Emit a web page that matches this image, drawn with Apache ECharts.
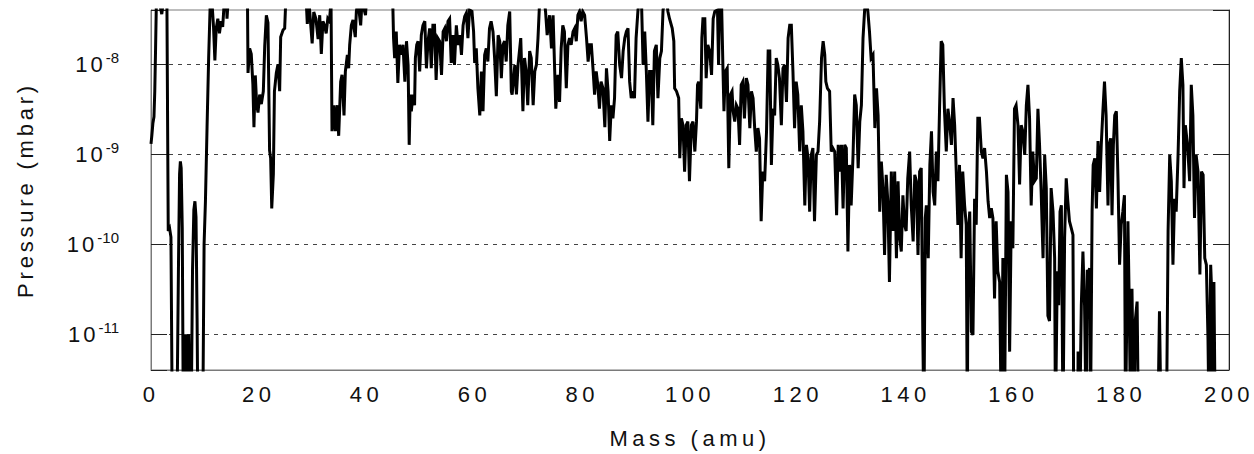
<!DOCTYPE html>
<html>
<head>
<meta charset="utf-8">
<script src="https://cdn.jsdelivr.net/npm/echarts@6/dist/echarts.min.js"></script>
<style>
html, body { margin: 0; padding: 0; background: #ffffff; }
#chart { width: 1254px; height: 454px; }
#chart text[style*="lsxa"], #chart text[font-family*="lsxa"] { letter-spacing: 4.5px; }
#chart text[style*="lsyn"], #chart text[font-family*="lsyn"] { letter-spacing: 3.8px; }
#chart text[style*="lsyb"], #chart text[font-family*="lsyb"] { letter-spacing: 3px; }
</style>
</head>
<body>
<div id="chart"></div>
<script>
// Mass spectrum: [mass (amu), pressure (mbar)]; values beyond the axis range are clipped.
const seg0to33 = [
  [0.0, 1.3e-9], [0.15, 1.6e-9], [0.35, 2.2e-9], [0.55, 2.6e-9], [0.7, 5e-9], [0.85, 1.5e-8], [1.0, 5e-8],
  [1.5, 5e-8], [2.0, 3.6e-8], [2.3, 5e-8], [2.95, 5e-8], [3.2, 1.4e-10], [3.45, 1.5e-10], [3.7, 1.2e-10],
  [3.95, 1e-12], [4.8, 1e-12], [5.1, 6e-11], [5.3, 6e-10], [5.45, 8.3e-10], [5.6, 7e-10], [5.8, 1.5e-10],
  [6.0, 1e-12], [6.2, 1e-11], [6.4, 2e-12], [6.6, 1e-11], [6.8, 2e-12], [7.0, 1e-11], [7.2, 1e-12],
  [7.45, 1e-12], [7.7, 5e-11], [7.95, 2.4e-10], [8.15, 3e-10], [8.35, 2e-10], [8.55, 1.5e-11], [8.7, 1e-12],
  [9.6, 1e-12], [9.85, 1e-10], [10.1, 3e-10], [10.4, 2e-9], [10.7, 1.2e-8], [11.0, 5e-8], [11.3, 5e-8],
  [11.6, 2.6e-8], [11.85, 1.1e-8], [12.1, 2.5e-8], [12.4, 3.2e-8], [12.7, 2.2e-8], [13.0, 3e-8], [13.3, 2.6e-8],
  [13.6, 5e-8], [14.0, 5e-8], [14.1, 3.2e-8], [14.3, 5e-8], [17.9, 5e-8], [18.0, 8e-9], [18.3, 1.5e-8],
  [18.6, 1.3e-8], [18.9, 6e-9], [19.1, 2.0e-9], [19.35, 7.5e-9], [19.6, 3.6e-9], [19.85, 2.9e-9], [20.16, 4.6e-9],
  [20.47, 3.6e-9], [20.84, 5e-9], [21.1, 1.6e-8], [21.4, 3.5e-8], [21.7, 2.9e-8], [22.0, 1.1e-9], [22.2, 9e-10],
  [22.4, 2.5e-10], [22.7, 6e-10], [22.9, 5e-9], [23.25, 8e-9], [23.56, 1.0e-8], [23.87, 5e-9], [24.06, 2e-8],
  [24.5, 2.4e-8], [24.8, 2.5e-8], [25.0, 5e-8], [28.8, 5e-8], [29.0, 2.8e-8], [29.3, 5e-8], [29.9, 1.7e-8],
  [30.2, 3.8e-8], [30.6, 3.2e-8], [31.0, 1.9e-8], [31.3, 3.5e-8], [31.6, 1.3e-8], [31.9, 3e-8], [32.2, 2.7e-8],
  [32.5, 2.2e-8], [32.8, 3.2e-8], [33.1, 3e-8], [33.4, 5e-8]
];
const seg33to67 = [
  [33.58, 1.8e-9], [33.95, 3.5e-9], [34.2, 1.8e-9], [34.57, 3.5e-9], [34.82, 1.6e-9], [35.19, 6.4e-9],
  [35.44, 7.6e-9], [35.81, 2.7e-9], [36.06, 8.3e-9], [36.43, 1.27e-8], [36.67, 9e-9], [36.86, 1.64e-8],
  [37.17, 2.7e-8], [37.48, 3.1e-8], [37.9, 2.0e-8], [38.1, 3.85e-8], [38.4, 5e-8], [38.9, 2.7e-8], [39.15, 5e-8],
  [39.8, 3.5e-8], [39.95, 5e-8], [44.85, 5e-8], [45.0, 1.95e-8], [45.2, 1.17e-8], [45.5, 2.3e-8], [45.8, 6.2e-9],
  [46.1, 1.64e-8], [46.45, 1.27e-8], [46.75, 1.64e-8], [47.1, 6.4e-9], [47.4, 1.8e-8], [47.7, 9.8e-9],
  [47.9, 1.27e-9], [48.1, 4.6e-9], [48.3, 3.0e-9], [48.6, 4.6e-9], [48.9, 3.5e-9], [49.05, 1.17e-8],
  [49.3, 1.64e-8], [49.55, 1.8e-8], [49.85, 8.3e-9], [50.15, 2.1e-8], [50.45, 2.7e-8], [50.8, 3.0e-8],
  [51.1, 9e-9], [51.4, 1.8e-8], [51.7, 2.5e-8], [52.0, 9e-9], [52.3, 2.7e-8], [52.6, 2.7e-8], [52.9, 6.7e-9],
  [53.2, 1.95e-8], [53.55, 1.8e-8], [53.9, 7.6e-9], [54.2, 2.3e-8], [54.5, 2.5e-8], [54.8, 1.8e-8],
  [55.1, 3.0e-8], [55.4, 3.2e-8], [55.7, 1.03e-8], [56.0, 2.1e-8], [56.3, 9.8e-9], [56.65, 2.7e-8],
  [56.95, 1.64e-8], [57.3, 2.1e-8], [57.6, 1.27e-8], [57.9, 2.7e-8], [58.2, 3.4e-8], [58.5, 3.7e-8],
  [58.8, 1.95e-8], [59.1, 4.0e-8], [59.55, 3.85e-8], [59.85, 2.3e-8], [60.05, 1.03e-8], [60.35, 1.5e-8],
  [60.65, 5.4e-9], [61.0, 2.7e-9], [61.3, 8.3e-9], [61.6, 3.0e-9], [61.9, 1.27e-8], [62.2, 1.5e-8],
  [62.5, 1.07e-8], [62.8, 2.5e-8], [63.1, 3.0e-8], [63.45, 2.3e-8], [63.75, 1.17e-8], [64.07, 4.4e-9],
  [64.4, 2.1e-8], [64.7, 1.8e-8], [65.0, 7.0e-9], [65.3, 1.64e-8], [65.6, 1.8e-8], [65.9, 1.07e-8],
  [66.2, 2.7e-8], [66.55, 3.85e-8], [66.85, 5.0e-9]
];
const seg67to100 = [
  [67.0, 4.6e-9], [67.5, 9.8e-9], [67.8, 4.6e-9], [68.1, 9.8e-9], [68.6, 1.95e-8], [69.0, 3.0e-9],
  [69.3, 1.17e-8], [69.6, 8.3e-9], [69.9, 3.5e-9], [70.25, 1.4e-8], [70.55, 1.17e-8], [70.9, 3.5e-9],
  [71.2, 8.3e-9], [71.5, 9.8e-9], [71.8, 1.95e-8], [72.1, 5e-8], [73.0, 5e-8], [73.2, 3.85e-8], [73.5, 2.1e-8],
  [73.95, 3.5e-8], [74.3, 1.5e-8], [74.6, 3.5e-8], [74.9, 8.3e-9], [75.1, 3.2e-9], [75.5, 7.6e-9],
  [75.8, 3.8e-9], [76.1, 1.5e-8], [76.4, 2.7e-8], [76.7, 2.3e-8], [77.05, 5.4e-9], [77.35, 1.64e-8],
  [77.65, 1.95e-8], [77.95, 1.64e-8], [78.3, 2.3e-8], [78.6, 2.5e-8], [78.9, 1.8e-8], [79.2, 3.5e-8],
  [79.5, 3.85e-8], [79.8, 3.0e-8], [80.1, 3.85e-8], [80.45, 3.5e-8], [80.8, 1.95e-8], [81.1, 1.07e-8],
  [81.4, 1.64e-8], [81.7, 1.64e-8], [82.0, 9e-9], [82.3, 4.6e-9], [82.6, 8.3e-9], [82.9, 5.9e-9],
  [83.2, 3.2e-9], [83.5, 6.4e-9], [83.85, 5.4e-9], [84.2, 2.0e-9], [84.5, 9e-9], [84.8, 5.0e-9],
  [85.1, 1.4e-9], [85.4, 3.5e-9], [85.7, 2.5e-9], [86.0, 4.2e-9], [86.3, 2.1e-8], [86.6, 2.3e-8],
  [86.95, 9.8e-9], [87.3, 7.0e-9], [87.6, 1.4e-8], [87.9, 1.95e-8], [88.2, 2.3e-8], [88.5, 2.5e-8],
  [88.8, 6.4e-9], [89.1, 4.2e-9], [89.4, 5.0e-9], [89.7, 4.2e-9], [90.0, 1.95e-8], [90.35, 4.0e-8],
  [90.6, 5e-8], [91.0, 5e-8], [91.3, 9.8e-9], [91.6, 2.3e-8], [91.9, 8.3e-9], [92.2, 2.3e-9], [92.5, 8.3e-9],
  [92.8, 8.3e-9], [93.1, 2.1e-9], [93.4, 1.4e-8], [93.75, 1.64e-8], [94.05, 4.2e-9], [94.4, 1.17e-8],
  [94.7, 1.4e-8], [95.0, 4.0e-8], [95.3, 5e-8], [95.7, 5e-8], [95.9, 3.85e-8], [96.2, 3.2e-8], [96.7, 2.5e-8],
  [97.0, 1.8e-8], [97.15, 5.4e-9], [97.5, 5.0e-9], [97.9, 4.2e-9], [98.1, 9e-10], [98.4, 2.5e-9],
  [98.7, 2.1e-9], [99.0, 6.4e-10], [99.3, 2.1e-9], [99.6, 2.3e-9], [99.9, 5.0e-10]
];
const seg100to132 = [
  [100.25, 2.1e-9], [100.55, 2.3e-9], [100.9, 1.07e-9], [101.2, 2.3e-9], [101.4, 5.9e-9], [101.6, 6.4e-9],
  [102.0, 3.2e-9], [102.2, 1.95e-8], [102.4, 3.2e-8], [102.75, 3.2e-8], [103.0, 7.0e-9], [103.3, 1.64e-8],
  [103.65, 1.4e-8], [104.0, 7.6e-9], [104.3, 3.2e-8], [104.6, 3.85e-8], [105.1, 4.0e-8], [105.3, 9.8e-9],
  [105.5, 5e-8], [105.85, 5e-8], [106.1, 9.8e-9], [106.3, 3.0e-9], [106.55, 8.3e-9], [106.9, 9e-9],
  [107.2, 7.0e-10], [107.5, 4.6e-9], [107.8, 5.0e-9], [108.0, 3.0e-9], [108.3, 2.3e-9], [108.6, 3.5e-9],
  [108.9, 3.2e-9], [109.2, 1.27e-9], [109.5, 5.9e-9], [109.8, 6.4e-9], [110.1, 2.5e-9], [110.45, 7.0e-9],
  [110.75, 5.9e-9], [111.1, 1.95e-9], [111.4, 5.0e-9], [111.7, 4.2e-9], [112.0, 1.95e-9], [112.3, 1.07e-9],
  [112.6, 1.95e-9], [112.9, 1.5e-9], [113.2, 1.8e-10], [113.5, 6.4e-10], [113.85, 5.0e-10], [114.2, 1.8e-9],
  [114.5, 1.4e-8], [114.8, 1.4e-8], [115.1, 7.6e-10], [115.4, 3.2e-9], [115.7, 2.7e-9], [116.0, 1.17e-8],
  [116.3, 9.8e-9], [116.6, 7.0e-9], [116.95, 2.1e-9], [117.25, 9e-9], [117.55, 9.8e-9], [117.9, 3.8e-9],
  [118.2, 1.95e-8], [118.5, 2.7e-8], [118.8, 2.7e-8], [119.1, 8.3e-9], [119.4, 1.95e-9], [119.7, 6.4e-9],
  [120.0, 4.6e-9], [120.35, 1.07e-9], [120.65, 3.5e-9], [120.95, 1.8e-9], [121.3, 2.7e-10], [121.6, 1.27e-9],
  [121.9, 9e-10], [122.2, 2.3e-10], [122.5, 9.8e-10], [122.8, 1.17e-9], [123.1, 1.8e-10], [123.45, 9.8e-10],
  [123.75, 1.07e-9], [124.05, 2.3e-9], [124.4, 1.17e-8], [124.7, 1.8e-8], [125.0, 1.27e-8], [125.2, 6.4e-9],
  [125.5, 5.4e-9], [125.9, 5.0e-9], [126.2, 1.07e-9], [126.5, 1.17e-9], [126.85, 1.07e-9], [127.2, 2.1e-10],
  [127.5, 1.27e-9], [127.8, 6.4e-10], [128.1, 1.27e-9], [128.4, 2.5e-10], [128.7, 1.27e-9], [129.0, 1.17e-9],
  [129.3, 8.3e-11], [129.6, 7.6e-10], [129.9, 2.7e-10], [130.25, 9.8e-10], [130.55, 4.6e-9], [130.85, 3.5e-9],
  [131.2, 7.0e-10], [131.5, 2.3e-9], [131.8, 3.5e-9], [132.1, 1.95e-8]
];
const seg132to166 = [
  [132.4, 4.0e-8], [132.7, 5e-8], [133.0, 3.85e-8], [133.3, 2.3e-8], [133.6, 1.17e-8], [133.95, 1.27e-8],
  [134.3, 1.95e-9], [134.6, 5.4e-9], [134.9, 2.7e-9], [135.2, 2.3e-10], [135.5, 8.3e-10], [135.8, 4.2e-10],
  [136.1, 7.6e-11], [136.4, 5.9e-10], [136.7, 3.0e-10], [137.0, 3.8e-11], [137.35, 6.4e-10], [137.65, 1.4e-10],
  [137.97, 6.4e-10], [138.3, 7.0e-11], [138.6, 5.0e-10], [138.9, 1.17e-10], [139.2, 8.3e-11], [139.5, 3.5e-10],
  [139.8, 1.64e-10], [140.1, 1.4e-10], [140.4, 5.4e-10], [140.75, 1.07e-9], [141.05, 2.7e-10], [141.4, 1.07e-10],
  [141.7, 5.9e-10], [142.0, 5.0e-10], [142.3, 7.6e-11], [142.6, 6.4e-10], [142.9, 7.0e-10], [143.2, 9e-12],
  [143.4, 1e-12], [143.65, 1.95e-10], [143.85, 2.7e-10], [144.2, 7.0e-11], [144.5, 7.6e-10], [144.8, 1.8e-9],
  [145.1, 3.8e-10], [145.4, 2.7e-10], [145.7, 1.07e-9], [146.0, 5.0e-10], [146.3, 3.2e-9], [146.6, 1.8e-8],
  [146.9, 1.64e-8], [147.2, 3.2e-9], [147.55, 1.07e-9], [147.85, 3.2e-9], [148.15, 2.3e-9], [148.5, 1.27e-9],
  [148.8, 4.2e-9], [149.1, 2.1e-9], [149.4, 6.4e-10], [149.7, 1.64e-10], [150.0, 7.6e-10], [150.3, 7.0e-11],
  [150.6, 6.4e-10], [150.95, 2.7e-10], [151.25, 1.64e-10], [151.45, 1e-12], [151.6, 1.17e-10], [151.9, 2.3e-10],
  [152.2, 1.07e-11], [152.5, 9.8e-12], [152.8, 3.2e-10], [153.1, 1.64e-10], [153.4, 2.5e-9], [153.7, 2.5e-9],
  [154.05, 1.07e-9], [154.35, 9e-10], [154.65, 1.17e-9], [155.0, 6.4e-10], [155.3, 3.0e-10], [155.6, 1.95e-10],
  [155.9, 2.5e-10], [156.2, 1.95e-10], [156.5, 2.5e-11], [156.8, 1.8e-10], [157.1, 5.0e-11], [157.45, 3.8e-11],
  [157.75, 1e-12], [158.05, 7.0e-11], [158.35, 1e-12], [158.7, 5.9e-10], [159.0, 3.8e-10], [159.3, 6.4e-12],
  [159.6, 1.8e-10], [159.9, 9e-11], [160.2, 3.2e-9], [160.5, 3.5e-9], [160.85, 2.1e-9], [161.15, 4.6e-10],
  [161.45, 2.1e-9], [161.75, 1.8e-9], [162.1, 9.8e-10], [162.4, 3.5e-9], [162.7, 5.9e-9], [163.0, 2.5e-9],
  [163.3, 2.7e-10], [163.6, 1.07e-9], [163.9, 5.0e-10], [164.25, 5.4e-10], [164.55, 3.2e-9], [164.85, 1.27e-9],
  [165.15, 3.8e-10], [165.5, 7.0e-11], [165.8, 9.8e-10], [166.1, 4.2e-10], [166.4, 1.6e-11]
];
const seg166to200 = [
  [166.7, 1.4e-11], [167.0, 4.2e-10], [167.35, 2.3e-10], [167.65, 7.0e-11], [167.8, 1e-12], [168.15, 5.0e-11],
  [168.4, 2.1e-11], [168.65, 2.3e-10], [168.9, 2.7e-10], [169.2, 1e-12], [169.5, 1.17e-10], [169.8, 5.4e-10],
  [170.1, 3.0e-10], [170.4, 1.8e-10], [170.75, 1.5e-10], [171.05, 1.27e-10], [171.2, 1e-12], [171.95, 1e-12],
  [172.0, 6.4e-12], [172.3, 1e-12], [172.6, 2.1e-11], [172.9, 8.3e-11], [173.2, 2.1e-11], [173.5, 1e-12],
  [173.7, 5.0e-11], [173.95, 5.0e-11], [174.15, 5.4e-11], [174.3, 1e-12], [174.6, 2.3e-10], [174.8, 7.6e-10],
  [175.1, 9e-10], [175.4, 2.5e-10], [175.7, 1.4e-9], [176.0, 3.8e-10], [176.3, 1.27e-9], [176.6, 3.0e-9],
  [176.9, 6.4e-9], [177.2, 2.7e-9], [177.55, 2.7e-10], [177.75, 1.27e-9], [178.05, 1.5e-9], [178.3, 2.1e-10],
  [178.55, 1.27e-9], [178.8, 2.7e-9], [179.1, 3.0e-9], [179.4, 5.4e-10], [179.7, 5.9e-11], [180.0, 1.64e-10],
  [180.3, 2.3e-10], [180.6, 3.5e-10], [180.8, 1e-12], [181.25, 1.8e-10], [181.45, 3.2e-11], [181.75, 1e-12],
  [182.0, 3.2e-11], [182.35, 1e-12], [182.6, 1.4e-11], [182.95, 2.3e-11], [183.2, 1e-12], [186.8, 1e-12],
  [187.1, 1.8e-11], [187.4, 1e-12], [188.4, 1e-12], [188.7, 1.4e-10], [189.0, 9.8e-10], [189.3, 5.0e-10],
  [189.6, 5.9e-11], [189.9, 3.2e-10], [190.2, 2.3e-10], [190.55, 9.8e-10], [190.85, 5.0e-9], [191.15, 1.17e-8],
  [191.45, 5.9e-9], [191.65, 4.2e-10], [191.9, 2.1e-9], [192.3, 1.27e-9], [192.7, 5.0e-10], [193.0, 5.9e-9],
  [193.3, 2.7e-9], [193.6, 1.95e-10], [193.9, 9.8e-10], [194.25, 6.4e-10], [194.6, 4.6e-11], [194.9, 6.4e-10],
  [195.2, 5.9e-10], [195.5, 7.0e-11], [195.8, 5.9e-11], [196.1, 9e-12], [196.3, 1e-12], [196.6, 5.9e-11],
  [196.85, 2.3e-11], [197.0, 1e-12], [197.2, 3.8e-11], [197.45, 1e-12]
];

const xRange = [0, 200];
const xTickStep = 20;
const yRange = [4e-12, 4e-8];
const xName = 'Mass (amu)';
const yName = 'Pressure (mbar)';

const spectrum = [].concat(seg0to33, seg33to67, seg67to100, seg100to132, seg132to166, seg166to200);

const BASE = "'Liberation Sans', Arial, Helvetica, sans-serif";
const FONT_X = BASE + ", lsxa";
const FONT_YN = BASE + ", lsyn";
const FONT_YB = BASE + ", lsyb";
const TXT = '#111111';

const chart = echarts.init(document.getElementById('chart'), null, { renderer: 'svg' });

function decadeLabel(v) {
  const e = Math.log10(v);
  const r = Math.round(e);
  if (Math.abs(e - r) > 0.02) return '';
  return '{b|10}{s|' + r + '}';
}

chart.setOption({
  animation: false,
  backgroundColor: '#ffffff',
  grid: {
    left: 151, top: 10, width: 1078, height: 361,
    show: true, borderColor: '#7a7a7a', borderWidth: 1, backgroundColor: 'transparent'
  },
  xAxis: {
    type: 'value', min: xRange[0], max: xRange[1], interval: xTickStep,
    name: xName, nameLocation: 'middle', nameGap: 57,
    nameTextStyle: { fontFamily: FONT_X, fontSize: 22, color: TXT },
    axisLine: { show: true, lineStyle: { color: '#7a7a7a', width: 1 } },
    axisTick: { show: false },
    splitLine: { show: false },
    axisLabel: { fontFamily: FONT_X, fontSize: 22, color: TXT, margin: 13 }
  },
  yAxis: [{
    type: 'log', logBase: 10, min: yRange[0], max: yRange[1],
    name: yName, nameLocation: 'middle', nameGap: 115,
    nameTextStyle: { fontFamily: FONT_YN, fontSize: 22, color: TXT },
    axisLine: { show: true, lineStyle: { color: '#7a7a7a', width: 1 } },
    axisTick: { show: true, inside: true, length: 16, lineStyle: { color: '#222', width: 1 } },
    minorTick: { show: false },
    splitLine: { show: true, showMinLine: false, showMaxLine: false,
      lineStyle: { color: '#444', width: 1, type: [4, 5] } },
    axisLabel: {
      margin: 32, align: 'right',
      formatter: decadeLabel,
      rich: {
        b: { fontFamily: FONT_YB, fontSize: 22, lineHeight: 28, color: TXT },
        s: { fontFamily: BASE, fontSize: 15, lineHeight: 15, verticalAlign: 'top', color: TXT }
      }
    }
  }, {
    type: 'log', logBase: 10, min: yRange[0], max: yRange[1], position: 'right',
    axisLine: { show: true, lineStyle: { color: '#222', width: 1 } },
    axisTick: { show: true, inside: true, length: 16, lineStyle: { color: '#222', width: 1 } },
    axisLabel: { show: false },
    splitLine: { show: false },
    minorTick: { show: false }
  }],
  series: [{
    type: 'line',
    data: spectrum,
    yAxisIndex: 0,
    symbol: 'none',
    showSymbol: false,
    clip: true,
    lineStyle: { color: '#000000', width: 3, join: 'miter' },
    z: 3
  }]
});
</script>
</body>
</html>
